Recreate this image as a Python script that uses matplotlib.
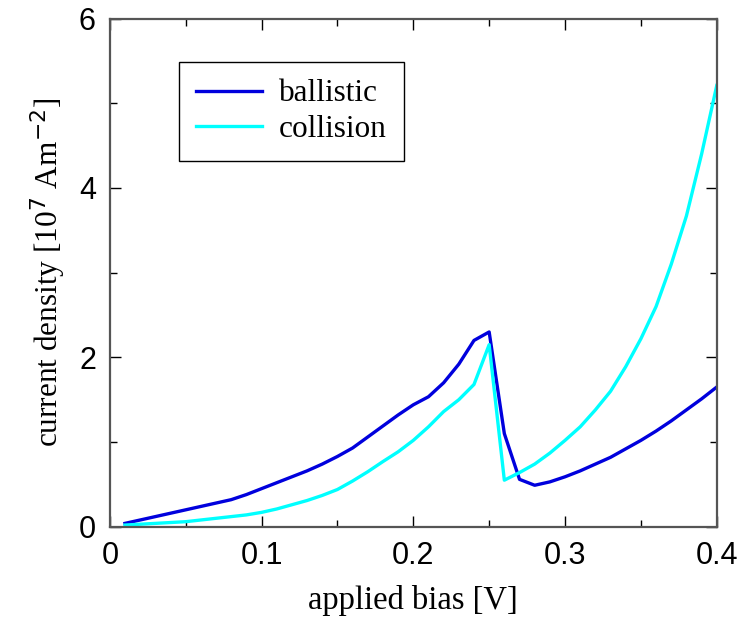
import matplotlib
matplotlib.use("Agg")
import matplotlib.pyplot as plt
from matplotlib.ticker import MultipleLocator

# applied bias [V]
bias = [0.01, 0.02, 0.03, 0.04, 0.05, 0.06, 0.07, 0.08, 0.09, 0.10,
        0.11, 0.12, 0.13, 0.14, 0.15, 0.16, 0.17, 0.18, 0.19, 0.20,
        0.21, 0.22, 0.23, 0.24, 0.25, 0.26, 0.27, 0.28, 0.29, 0.30,
        0.31, 0.32, 0.33, 0.34, 0.35, 0.36, 0.37, 0.38, 0.39, 0.40]

# current density [1e7 A m^-2]
ballistic = [0.04, 0.08, 0.12, 0.16, 0.20, 0.24, 0.28, 0.32, 0.38, 0.45,
             0.52, 0.59, 0.66, 0.74, 0.83, 0.93, 1.06, 1.19, 1.32, 1.44,
             1.535, 1.70, 1.92, 2.20, 2.30, 1.10, 0.56, 0.49, 0.53, 0.59,
             0.66, 0.74, 0.82, 0.92, 1.02, 1.13, 1.25, 1.38, 1.51, 1.65]

collision = [0.02, 0.03, 0.04, 0.05, 0.06, 0.08, 0.10, 0.12, 0.14, 0.17,
             0.21, 0.26, 0.31, 0.37, 0.44, 0.54, 0.65, 0.77, 0.885, 1.02,
             1.18, 1.36, 1.50, 1.68, 2.15, 0.55, 0.64, 0.74, 0.87, 1.02,
             1.18, 1.38, 1.60, 1.89, 2.22, 2.60, 3.10, 3.67, 4.40, 5.21]

xticks = [0, 0.1, 0.2, 0.3, 0.4]
xticklabels = ["0", "0.1", "0.2", "0.3", "0.4"]
yticks = [0, 2, 4, 6]
yticklabels = ["0", "2", "4", "6"]

serif = ["Liberation Serif", "DejaVu Serif"]
sans = ["Liberation Sans", "DejaVu Sans"]

fig = plt.figure(figsize=(7.42, 6.19), dpi=100)
ax = fig.add_axes([0.148, 0.149, 0.818, 0.821])

ax.plot(bias, ballistic, color="#0000dd", lw=2.4, label="ballistic")
ax.plot(bias, collision, color="#00ffff", lw=2.4, label="collision")

ax.set_xlim(0, 0.4)
ax.set_ylim(0, 6)
ax.set_xticks(xticks)
ax.set_xticklabels(xticklabels, fontfamily=sans, fontsize=22)
ax.set_yticks(yticks)
ax.set_yticklabels(yticklabels, fontfamily=sans, fontsize=22)
ax.xaxis.set_minor_locator(MultipleLocator(0.05))
ax.yaxis.set_minor_locator(MultipleLocator(1))
ax.tick_params(which="both", direction="in", top=True, right=True,
               color="black", width=1.0)
ax.tick_params(which="major", length=8, pad=10)
ax.tick_params(which="minor", length=5)
for s in ax.spines.values():
    s.set_color("#555555")
    s.set_linewidth(1.6)

ax.set_xlabel("applied bias [V]", fontfamily=serif, fontsize=23.5, labelpad=10)
ax.set_ylabel(r"current density [10$^7$ Am$^{-2}$]", fontfamily=serif,
              fontsize=22.5, labelpad=8)

leg = ax.legend(loc="upper left", bbox_to_anchor=(0.114, 0.914),
                borderaxespad=0, fancybox=False, framealpha=1,
                prop={"family": serif, "size": 22.5}, handlelength=2.1,
                borderpad=0.55, labelspacing=0.2, handletextpad=0.55)
leg.get_frame().set_edgecolor("black")
leg.get_frame().set_linewidth(1.0)

fig.savefig("out.png", dpi=100)
